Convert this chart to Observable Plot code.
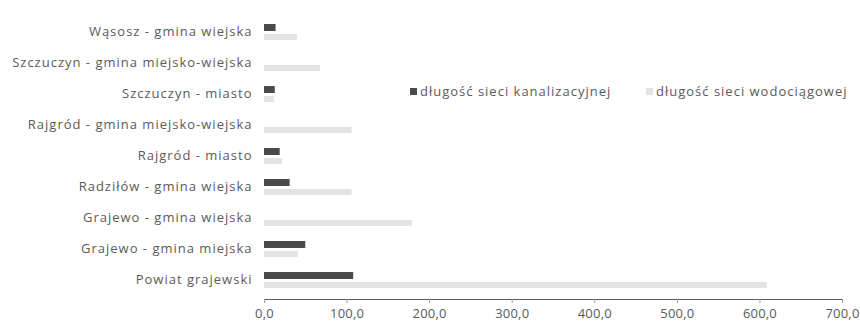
<!DOCTYPE html>
<html>
<head>
<meta charset="utf-8">
<script src="https://cdn.jsdelivr.net/npm/d3@7"></script>
<script src="https://cdn.jsdelivr.net/npm/@observablehq/plot@0.6"></script>
<style>
  body { margin: 0; background: #fff; }
  #wrap { position: relative; width: 860px; height: 326px; font-family: "Open Sans", sans-serif; }
  #wrap svg text { letter-spacing: 1px; }
  #wrap svg g[aria-label='x-axis tick label'] text { letter-spacing: 0.2px; }
  .lg { position: absolute; top: 82px; font-size: 13px; letter-spacing: 1px; color: #5a5a5a; display: flex; align-items: center; white-space: nowrap; }
  .lg .sw { width: 7px; height: 7px; margin-right: 3px; display: inline-block; }
</style>
</head>
<body>
<div id="wrap"></div>
<script>
const categories = [
  "Wąsosz - gmina wiejska",
  "Szczuczyn - gmina miejsko-wiejska",
  "Szczuczyn - miasto",
  "Rajgród - gmina miejsko-wiejska",
  "Rajgród - miasto",
  "Radziłów - gmina wiejska",
  "Grajewo - gmina wiejska",
  "Grajewo - gmina miejska",
  "Powiat grajewski"
];
const seriesNames = ["długość sieci kanalizacyjnej", "długość sieci wodociągowej"];
const kanalizacyjna = [14, 0, 13, 0, 19, 31, 0, 50, 108];
const wodociagowa = [40, 68, 12, 106, 22, 106, 179, 41, 609];
const xTicks = [0, 100, 200, 300, 400, 500, 600, 700];
const colors = ["#4a4a4a", "#e3e3e3"];
const legendLeft = [410, 646];

const rowsK = categories.map((c, i) => ({category: c, series: seriesNames[0], value: kanalizacyjna[i]}));
const rowsW = categories.map((c, i) => ({category: c, series: seriesNames[1], value: wodociagowa[i]}));

const chart = Plot.plot({
  width: 860,
  height: 326,
  marginLeft: 264,
  marginRight: 18,
  marginTop: 12,
  marginBottom: 27,
  style: {fontFamily: "'Open Sans', sans-serif", fontSize: "13px", color: "#5a5a5a", background: "#fff"},
  x: {domain: [0, 700], ticks: xTicks, tickFormat: d => d.toFixed(1).replace(".", ","), tickSize: 4, tickPadding: 5, line: true, label: null},
  y: {domain: categories, padding: 0, tickSize: 0, tickPadding: 12, label: null},
  marks: [
    Plot.barX(rowsK, {y: "category", x: "value", fill: colors[0], insetTop: 8, insetBottom: 16}),
    Plot.barX(rowsW, {y: "category", x: "value", fill: colors[1], insetTop: 18, insetBottom: 7})
  ]
});
chart.querySelectorAll("[aria-label='x-axis tick'], [aria-label='x-axis line']").forEach(g => g.setAttribute("stroke", "#999"));
const wrap = document.getElementById("wrap");
wrap.appendChild(chart);

seriesNames.forEach((name, i) => {
  const item = document.createElement("div");
  item.className = "lg";
  item.style.left = legendLeft[i] + "px";
  const sw = document.createElement("span");
  sw.className = "sw";
  sw.style.background = colors[i];
  item.appendChild(sw);
  item.appendChild(document.createTextNode(name));
  wrap.appendChild(item);
});
</script>
</body>
</html>
